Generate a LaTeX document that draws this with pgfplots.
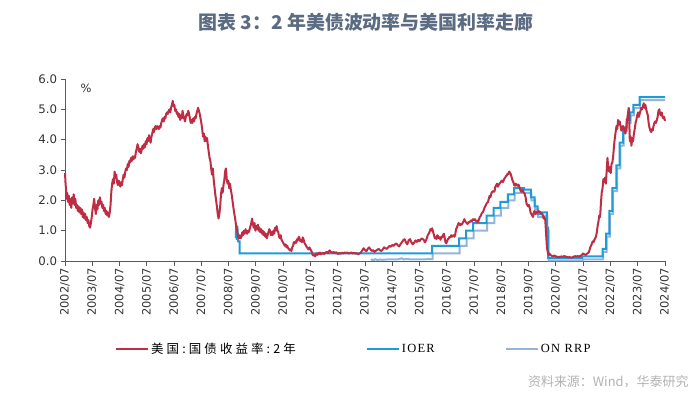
\documentclass[border=0pt]{standalone}
\usepackage{fontspec}
\usepackage{pgfplots}
\usepackage{pgfplotstable}
\pgfplotsset{compat=1.18}
\setmainfont{DejaVu Sans}
\newfontfamily\cjk{Noto Sans CJK SC}
\newfontfamily\cjkleg[LetterSpace=25]{Noto Sans CJK SC}
\newfontfamily\serleg[LetterSpace=10]{Liberation Serif}
\newfontfamily\dv{DejaVu Sans}
\definecolor{cred}{RGB}{190,45,68}
\definecolor{cioer}{RGB}{30,155,215}
\definecolor{crrp}{RGB}{147,180,220}
\definecolor{ctitle}{RGB}{90,107,130}
\definecolor{caxis}{RGB}{90,90,90}

\pgfplotstableread{
x y
2002.50 2.90
2002.52 2.55
2002.54 2.35
2002.56 2.05
2002.58 2.25
2002.61 1.95
2002.64 2.15
2002.67 1.85
2002.70 2.05
2002.73 1.75
2002.76 2.10
2002.79 1.90
2002.82 2.20
2002.85 1.85
2002.88 2.05
2002.91 1.75
2002.94 1.85
2002.97 1.65
2003.00 1.80
2003.03 1.60
2003.06 1.75
2003.09 1.55
2003.12 1.70
2003.15 1.45
2003.18 1.60
2003.21 1.40
2003.24 1.55
2003.27 1.35
2003.30 1.45
2003.33 1.25
2003.36 1.35
2003.39 1.15
2003.42 1.10
2003.45 1.25
2003.48 1.45
2003.51 1.70
2003.54 1.85
2003.57 2.05
2003.60 1.75
2003.63 1.55
2003.66 1.85
2003.69 1.70
2003.72 2.00
2003.75 1.85
2003.78 2.10
2003.81 1.90
2003.84 1.95
2003.87 1.75
2003.90 1.85
2003.93 1.65
2003.96 1.75
2003.99 1.55
2004.02 1.65
2004.05 1.50
2004.08 1.60
2004.11 1.45
2004.14 1.60
2004.17 1.85
2004.20 2.30
2004.23 2.55
2004.26 2.70
2004.29 2.55
2004.32 2.95
2004.35 2.75
2004.38 2.85
2004.41 2.60
2004.44 2.50
2004.47 2.65
2004.50 2.55
2004.53 2.45
2004.56 2.60
2004.59 2.50
2004.62 2.70
2004.65 2.85
2004.68 2.75
2004.71 2.95
2004.74 3.05
2004.77 3.00
2004.80 3.20
2004.83 3.10
2004.86 3.30
2004.89 3.25
2004.92 3.40
2004.95 3.30
2004.98 3.45
2005.01 3.35
2005.04 3.45
2005.07 3.40
2005.10 3.60
2005.13 3.70
2005.16 3.85
2005.19 3.75
2005.22 3.60
2005.25 3.70
2005.28 3.55
2005.31 3.65
2005.34 3.80
2005.37 3.70
2005.40 3.85
2005.43 3.75
2005.46 3.95
2005.49 3.85
2005.52 4.05
2005.55 3.95
2005.58 4.15
2005.61 4.00
2005.64 3.90
2005.67 4.10
2005.70 4.20
2005.73 4.35
2005.76 4.25
2005.79 4.40
2005.82 4.45
2005.85 4.35
2005.88 4.45
2005.91 4.40
2005.94 4.35
2005.97 4.45
2006.00 4.40
2006.03 4.55
2006.06 4.65
2006.09 4.70
2006.12 4.60
2006.15 4.75
2006.18 4.70
2006.21 4.85
2006.24 4.90
2006.27 4.85
2006.30 4.95
2006.33 5.00
2006.36 4.90
2006.39 5.05
2006.42 5.15
2006.45 5.28
2006.48 5.10
2006.51 5.15
2006.54 4.95
2006.57 5.00
2006.60 4.85
2006.63 4.90
2006.66 4.75
2006.69 4.85
2006.72 4.65
2006.75 4.80
2006.78 4.70
2006.81 4.95
2006.84 4.80
2006.87 4.70
2006.90 4.60
2006.93 4.75
2006.96 4.85
2006.99 4.80
2007.02 4.95
2007.05 4.85
2007.08 4.70
2007.11 4.55
2007.14 4.65
2007.17 4.55
2007.20 4.70
2007.23 4.60
2007.26 4.75
2007.29 4.70
2007.32 4.85
2007.35 4.95
2007.38 5.05
2007.41 4.95
2007.44 4.85
2007.47 4.70
2007.50 4.55
2007.53 4.35
2007.56 4.10
2007.59 4.20
2007.62 3.95
2007.65 4.10
2007.68 3.95
2007.71 4.05
2007.74 3.80
2007.77 3.60
2007.80 3.40
2007.83 3.30
2007.86 3.05
2007.89 2.85
2007.92 3.05
2007.95 2.70
2007.98 2.45
2008.01 2.20
2008.04 2.00
2008.07 1.80
2008.10 1.55
2008.13 1.40
2008.16 1.55
2008.19 1.80
2008.22 2.20
2008.25 2.40
2008.28 2.25
2008.31 2.50
2008.34 2.65
2008.37 2.95
2008.40 3.05
2008.43 2.70
2008.46 2.55
2008.49 2.65
2008.52 2.40
2008.55 2.55
2008.58 2.35
2008.61 2.20
2008.64 2.00
2008.67 1.80
2008.70 1.60
2008.73 1.45
2008.76 1.25
2008.79 1.10
2008.82 0.95
2008.85 0.80
2008.88 0.75
2008.91 0.85
2008.94 0.75
2008.97 0.80
2009.00 0.95
2009.03 0.85
2009.06 1.00
2009.09 0.90
2009.12 1.05
2009.15 0.95
2009.18 0.90
2009.21 1.00
2009.24 0.95
2009.27 1.05
2009.30 1.15
2009.33 1.25
2009.36 1.40
2009.39 1.20
2009.42 1.10
2009.45 1.25
2009.48 1.00
2009.51 1.15
2009.54 1.05
2009.57 1.20
2009.60 1.00
2009.63 1.10
2009.66 0.95
2009.69 1.05
2009.72 0.90
2009.75 1.00
2009.78 0.85
2009.81 0.95
2009.84 0.80
2009.87 0.90
2009.90 0.75
2009.93 0.85
2009.96 0.95
2009.99 1.05
2010.02 1.00
2010.05 0.85
2010.08 0.95
2010.11 0.85
2010.14 1.00
2010.17 0.90
2010.20 1.10
2010.23 1.00
2010.26 1.15
2010.29 1.00
2010.32 0.95
2010.35 0.80
2010.38 0.75
2010.41 0.85
2010.44 0.70
2010.47 0.65
2010.50 0.60
2010.53 0.55
2010.56 0.50
2010.59 0.55
2010.62 0.45
2010.65 0.50
2010.68 0.42
2010.71 0.40
2010.74 0.35
2010.77 0.38
2010.80 0.33
2010.83 0.45
2010.86 0.50
2010.89 0.62
2010.92 0.58
2010.95 0.65
2010.98 0.60
2011.01 0.72
2011.04 0.68
2011.07 0.80
2011.10 0.75
2011.13 0.65
2011.16 0.70
2011.19 0.62
2011.22 0.78
2011.25 0.70
2011.28 0.60
2011.31 0.55
2011.34 0.50
2011.37 0.45
2011.40 0.42
2011.43 0.38
2011.46 0.45
2011.49 0.40
2011.52 0.35
2011.55 0.30
2011.58 0.20
2011.61 0.18
2011.64 0.20
2011.67 0.15
2011.70 0.22
2011.73 0.25
2011.76 0.20
2011.79 0.26
2011.82 0.23
2011.85 0.28
2011.88 0.22
2011.91 0.25
2011.94 0.24
2011.97 0.27
2012.00 0.23
2012.05 0.28
2012.10 0.30
2012.15 0.26
2012.20 0.35
2012.25 0.30
2012.30 0.27
2012.35 0.30
2012.40 0.26
2012.45 0.29
2012.50 0.23
2012.55 0.26
2012.60 0.24
2012.65 0.27
2012.70 0.25
2012.75 0.28
2012.80 0.26
2012.85 0.28
2012.90 0.25
2012.95 0.26
2013.00 0.28
2013.05 0.25
2013.10 0.27
2013.15 0.24
2013.20 0.26
2013.25 0.22
2013.30 0.25
2013.35 0.28
2013.40 0.35
2013.45 0.42
2013.50 0.36
2013.55 0.32
2013.60 0.40
2013.65 0.45
2013.70 0.38
2013.75 0.33
2013.80 0.36
2013.85 0.30
2013.90 0.34
2013.95 0.37
2014.00 0.40
2014.05 0.35
2014.10 0.33
2014.15 0.38
2014.20 0.45
2014.25 0.42
2014.30 0.40
2014.35 0.45
2014.40 0.50
2014.45 0.47
2014.50 0.53
2014.55 0.50
2014.60 0.55
2014.65 0.58
2014.70 0.52
2014.75 0.48
2014.80 0.55
2014.85 0.62
2014.90 0.68
2014.95 0.72
2015.00 0.62
2015.05 0.55
2015.10 0.68
2015.15 0.72
2015.20 0.62
2015.25 0.55
2015.30 0.60
2015.35 0.68
2015.40 0.63
2015.45 0.70
2015.50 0.65
2015.55 0.72
2015.60 0.74
2015.65 0.70
2015.70 0.62
2015.75 0.70
2015.80 0.85
2015.85 0.92
2015.90 1.05
2015.93 1.00
2015.96 1.08
2016.00 0.95
2016.03 0.85
2016.06 0.75
2016.09 0.78
2016.12 0.72
2016.15 0.85
2016.18 0.82
2016.21 0.75
2016.24 0.78
2016.27 0.70
2016.30 0.80
2016.33 0.78
2016.36 0.85
2016.39 0.90
2016.42 0.78
2016.45 0.62
2016.48 0.58
2016.51 0.65
2016.54 0.72
2016.57 0.74
2016.60 0.80
2016.63 0.78
2016.66 0.85
2016.69 0.80
2016.72 0.83
2016.75 0.85
2016.78 0.80
2016.81 0.88
2016.84 1.05
2016.87 1.10
2016.90 1.18
2016.93 1.25
2016.96 1.22
2016.99 1.18
2017.02 1.22
2017.05 1.20
2017.08 1.25
2017.11 1.30
2017.14 1.38
2017.17 1.32
2017.20 1.28
2017.23 1.25
2017.26 1.22
2017.29 1.28
2017.32 1.27
2017.35 1.30
2017.38 1.33
2017.41 1.30
2017.44 1.36
2017.47 1.38
2017.50 1.35
2017.53 1.38
2017.56 1.33
2017.59 1.30
2017.62 1.33
2017.65 1.28
2017.68 1.38
2017.71 1.45
2017.74 1.48
2017.77 1.55
2017.80 1.60
2017.83 1.62
2017.86 1.70
2017.89 1.78
2017.92 1.82
2017.95 1.88
2017.98 1.92
2018.01 1.95
2018.04 2.05
2018.07 2.15
2018.10 2.10
2018.13 2.22
2018.16 2.28
2018.19 2.30
2018.22 2.28
2018.25 2.30
2018.28 2.45
2018.31 2.50
2018.34 2.55
2018.37 2.45
2018.40 2.50
2018.43 2.55
2018.46 2.58
2018.49 2.62
2018.52 2.65
2018.55 2.60
2018.58 2.65
2018.61 2.72
2018.64 2.75
2018.67 2.80
2018.70 2.82
2018.73 2.88
2018.76 2.87
2018.79 2.95
2018.82 2.90
2018.85 2.85
2018.88 2.75
2018.91 2.65
2018.94 2.60
2018.97 2.50
2019.00 2.48
2019.03 2.55
2019.06 2.50
2019.09 2.48
2019.12 2.52
2019.15 2.48
2019.18 2.38
2019.21 2.30
2019.24 2.28
2019.27 2.35
2019.30 2.30
2019.33 2.25
2019.36 2.20
2019.39 2.10
2019.42 1.90
2019.45 1.85
2019.48 1.80
2019.51 1.85
2019.54 1.75
2019.57 1.60
2019.60 1.55
2019.63 1.50
2019.66 1.45
2019.69 1.60
2019.72 1.65
2019.75 1.55
2019.78 1.58
2019.81 1.62
2019.84 1.60
2019.87 1.65
2019.90 1.60
2019.93 1.62
2019.96 1.58
2019.99 1.55
2020.02 1.50
2020.05 1.40
2020.08 1.45
2020.11 1.35
2020.14 0.90
2020.17 0.45
2020.20 0.30
2020.23 0.20
2020.26 0.25
2020.30 0.20
2020.35 0.17
2020.40 0.16
2020.45 0.18
2020.50 0.15
2020.55 0.14
2020.60 0.13
2020.65 0.14
2020.70 0.15
2020.75 0.14
2020.80 0.16
2020.85 0.15
2020.90 0.13
2020.95 0.12
2021.00 0.13
2021.05 0.11
2021.10 0.12
2021.15 0.14
2021.20 0.16
2021.25 0.15
2021.30 0.16
2021.35 0.15
2021.40 0.17
2021.45 0.20
2021.50 0.25
2021.55 0.22
2021.60 0.20
2021.65 0.25
2021.70 0.28
2021.73 0.35
2021.76 0.45
2021.79 0.50
2021.82 0.58
2021.85 0.65
2021.88 0.62
2021.91 0.70
2021.94 0.75
2021.97 0.80
2022.00 0.95
2022.03 1.15
2022.06 1.30
2022.09 1.50
2022.12 1.45
2022.15 1.90
2022.18 2.25
2022.21 2.40
2022.24 2.70
2022.27 2.60
2022.30 2.75
2022.33 2.55
2022.36 2.95
2022.39 3.40
2022.42 3.05
2022.45 2.95
2022.48 3.10
2022.51 2.90
2022.54 3.20
2022.57 3.25
2022.60 3.45
2022.63 3.80
2022.66 4.05
2022.69 4.25
2022.72 4.45
2022.75 4.35
2022.78 4.65
2022.81 4.50
2022.84 4.60
2022.87 4.45
2022.90 4.30
2022.93 4.35
2022.96 4.45
2022.99 4.40
2023.02 4.25
2023.05 4.20
2023.08 4.40
2023.11 4.65
2023.14 4.85
2023.17 5.05
2023.19 4.60
2023.21 3.95
2023.24 4.10
2023.27 3.80
2023.30 4.05
2023.33 3.95
2023.36 4.20
2023.39 4.35
2023.42 4.55
2023.45 4.65
2023.48 4.80
2023.51 4.90
2023.54 4.75
2023.57 4.85
2023.60 4.95
2023.63 5.05
2023.66 5.00
2023.69 5.10
2023.72 5.20
2023.75 5.05
2023.78 5.15
2023.81 5.00
2023.84 4.90
2023.87 4.80
2023.90 4.55
2023.93 4.40
2023.96 4.30
2023.99 4.25
2024.02 4.35
2024.05 4.30
2024.08 4.45
2024.11 4.55
2024.14 4.60
2024.17 4.55
2024.20 4.65
2024.23 4.75
2024.26 4.95
2024.29 5.00
2024.32 4.85
2024.35 4.80
2024.38 4.90
2024.41 4.75
2024.44 4.70
2024.47 4.75
2024.50 4.62
}\redtab

\pgfplotstableread{
x y
2008.76 0.75
2008.78 1.20
2008.80 0.70
2008.82 1.15
2008.85 0.65
2008.90 0.65
2008.90 0.25
2015.96 0.25
2015.96 0.50
2016.95 0.50
2016.95 0.75
2017.21 0.75
2017.21 1.00
2017.46 1.00
2017.46 1.25
2017.96 1.25
2017.96 1.50
2018.22 1.50
2018.22 1.75
2018.46 1.75
2018.46 1.95
2018.74 1.95
2018.74 2.20
2018.97 2.20
2018.97 2.40
2019.33 2.40
2019.33 2.35
2019.58 2.35
2019.58 2.10
2019.72 2.10
2019.72 1.80
2019.83 1.80
2019.83 1.55
2020.00 1.55
2020.00 1.60
2020.17 1.60
2020.17 1.10
2020.21 1.10
2020.21 0.10
2021.46 0.10
2021.46 0.15
2022.21 0.15
2022.21 0.40
2022.34 0.40
2022.34 0.90
2022.46 0.90
2022.46 1.65
2022.57 1.65
2022.57 2.40
2022.72 2.40
2022.72 3.15
2022.84 3.15
2022.84 3.90
2022.96 3.90
2022.96 4.40
2023.09 4.40
2023.09 4.65
2023.22 4.65
2023.22 4.90
2023.34 4.90
2023.34 5.15
2023.57 5.15
2023.57 5.40
2024.50 5.40
}\ioertab

\pgfplotstableread{
x y
2013.72 0.02
2013.76 0.05
2013.82 0.03
2013.88 0.06
2013.95 0.03
2014.05 0.05
2014.15 0.04
2014.30 0.05
2014.45 0.05
2014.60 0.05
2014.75 0.06
2014.85 0.09
2014.92 0.05
2015.00 0.07
2015.20 0.05
2015.50 0.05
2015.80 0.06
2015.98 0.06
2015.98 0.25
2016.97 0.25
2016.97 0.50
2017.23 0.50
2017.23 0.75
2017.48 0.75
2017.48 1.00
2017.98 1.00
2017.98 1.25
2018.24 1.25
2018.24 1.50
2018.48 1.50
2018.48 1.75
2018.76 1.75
2018.76 2.00
2018.99 2.00
2018.99 2.25
2019.60 2.25
2019.60 2.00
2019.74 2.00
2019.74 1.70
2019.85 1.70
2019.85 1.45
2020.02 1.45
2020.02 1.50
2020.19 1.50
2020.19 1.00
2020.23 1.00
2020.23 0.02
2021.48 0.02
2021.48 0.05
2022.23 0.05
2022.23 0.30
2022.36 0.30
2022.36 0.80
2022.48 0.80
2022.48 1.55
2022.59 1.55
2022.59 2.30
2022.74 2.30
2022.74 3.05
2022.86 3.05
2022.86 3.80
2022.98 3.80
2022.98 4.30
2023.11 4.30
2023.11 4.55
2023.24 4.55
2023.24 4.80
2023.36 4.80
2023.36 5.05
2023.59 5.05
2023.59 5.30
2024.50 5.30
}\rrptab

\begin{document}
\begin{tikzpicture}
\path[use as bounding box] (0bp,0bp) rectangle (700bp,404bp);
\node[font=\cjk\bfseries\fontsize{19}{22}\selectfont, text=ctitle] at (366bp,382bp) {图表 3：2 年美债波动率与美国利率走廊};
\begin{axis}[
  at={(65bp,143bp)}, anchor=south west,
  scale only axis, width=600bp, height=182bp,
  xmin=2002.5, xmax=2024.5, ymin=0, ymax=6,
  axis x line*=bottom, axis y line*=left,
  axis line style={caxis, line width=0.9bp, -},
  tick align=outside, major tick length=4.5bp,
  tick style={caxis, line width=0.9bp},
  xtick={2002.5,2003.5,...,2024.5},
  xticklabels={2002/07,2003/07,2004/07,2005/07,2006/07,2007/07,2008/07,2009/07,2010/07,2011/07,2012/07,2013/07,2014/07,2015/07,2016/07,2017/07,2018/07,2019/07,2020/07,2021/07,2022/07,2023/07,2024/07},
  xticklabel style={rotate=90, anchor=east, font=\dv\fontsize{11.5}{12}\selectfont, text=black!80, inner sep=2.5bp},
  ytick={0,1,...,6},
  yticklabel style={font=\dv\fontsize{11.8}{12}\selectfont, text=black!80, /pgf/number format/.cd, fixed, fixed zerofill, precision=1, assume math mode=true},
  clip=false,
  legend style={at={(axis description cs:0.083,-0.4835)}, anchor=west, draw=none, fill=none, inner sep=0pt,
    /tikz/every even column/.append style={column sep=68bp}},
  legend columns=3,
  legend cell align=left,
  legend image code/.code={\draw[#1, line width=2.2bp] (0bp,0bp) -- (32bp,0bp);},
]
\addplot[crrp, line width=2bp, forget plot] table[x=x,y=y] {\rrptab};
\addplot[cioer, line width=2bp, forget plot] table[x=x,y=y] {\ioertab};
\addplot[cred, line width=2bp, line join=round, forget plot] table[x=x,y=y] {\redtab};
\addlegendimage{cred}
\addlegendentry{\cjkleg\fontsize{12.5}{14}\selectfont 美国:国债收益率:2年}
\addlegendimage{cioer}
\addlegendentry{\serleg\fontsize{12.5}{14}\selectfont IOER}
\addlegendimage{crrp}
\addlegendentry{\serleg\fontsize{12.5}{14}\selectfont ON RRP}
\node[anchor=north west, font=\dv\fontsize{11.5}{12}\selectfont, text=black!80] at (axis description cs:0.02,0.99) {\%};
\end{axis}
\node[anchor=east, font=\cjk\fontsize{13}{15}\selectfont, text=black!30] at (692bp,22bp) {资料来源：Wind，华泰研究};
\end{tikzpicture}
\end{document}
